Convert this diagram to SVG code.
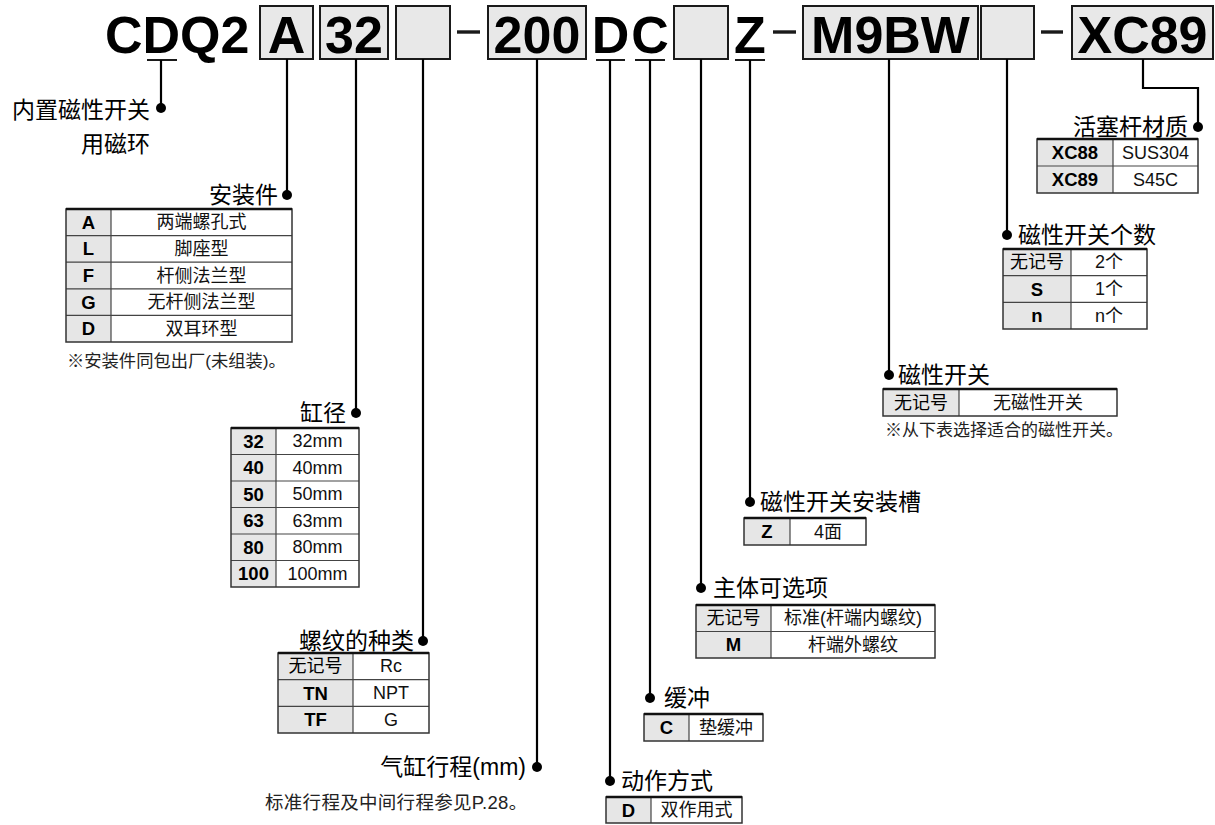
<svg xmlns="http://www.w3.org/2000/svg" width="1215" height="825" viewBox="0 0 1215 825">
<style>
.hd{font-family:"Liberation Sans",Arial,sans-serif;font-weight:bold;font-size:52px;fill:#000;text-anchor:middle}
.box{fill:#e8e8e8;stroke:#1a1a1a;stroke-width:2}
.ul{stroke:#1a1a1a;stroke-width:2}
.dash{fill:#1a1a1a}
.ln{fill:none;stroke:#000;stroke-width:2.2}
.dot{fill:#000}
.lbl{font-family:"Liberation Sans","Noto Sans CJK SC",sans-serif;font-size:23px;fill:#000;dominant-baseline:central}
.note{font-family:"Liberation Sans","Noto Sans CJK SC",sans-serif;font-size:17px;fill:#222;dominant-baseline:central}
.tb{fill:none;stroke:#333;stroke-width:1.5}
.bg{fill:#fff}
.c1{fill:#e6e6e6}
.grid{stroke:#444;stroke-width:1.2}
.top{stroke:#111;stroke-width:2.4}
.k{font-family:"Liberation Sans","Noto Sans CJK SC",sans-serif;font-weight:bold;font-size:18.5px;fill:#000;text-anchor:middle;dominant-baseline:central}
.kc{font-family:"Liberation Sans","Noto Sans CJK SC",sans-serif;font-size:18px;fill:#000;text-anchor:middle;dominant-baseline:central}
.v{font-family:"Liberation Sans","Noto Sans CJK SC",sans-serif;font-size:18px;fill:#111;text-anchor:middle;dominant-baseline:central}
.e{text-anchor:end}
</style>

<!-- Header model code -->
<g id="header">
  <text class="hd" x="105" y="53" style="text-anchor:start">CDQ2</text>
  <rect class="box" x="260" y="6" width="53" height="53"/>
  <text class="hd" x="286.5" y="53">A</text>
  <rect class="box" x="320" y="6" width="68" height="53"/>
  <text class="hd" x="354" y="53">32</text>
  <rect class="box" x="396" y="6" width="54" height="53"/>
  <rect class="dash" x="457" y="30.3" width="23" height="3.4"/>
  <rect class="box" x="488" y="6" width="98" height="53"/>
  <text class="hd" x="537" y="53">200</text>
  <text class="hd" x="610.5" y="53">D</text>
  <text class="hd" x="650" y="53">C</text>
  <rect class="box" x="674" y="6" width="54" height="53"/>
  <text class="hd" x="750" y="53">Z</text>
  <rect class="dash" x="773" y="30.3" width="23" height="3.4"/>
  <rect class="box" x="803" y="6" width="175" height="53"/>
  <text class="hd" x="890.5" y="53">M9BW</text>
  <rect class="box" x="981" y="6" width="53" height="53"/>
  <rect class="dash" x="1041" y="30.3" width="22" height="3.4"/>
  <rect class="box" x="1072" y="6" width="141" height="53"/>
  <text class="hd" x="1142.5" y="53">XC89</text>
  <line class="ul" x1="147" y1="60" x2="177" y2="60"/>
  <line class="ul" x1="596" y1="60" x2="625" y2="60"/>
  <line class="ul" x1="635" y1="60" x2="665" y2="60"/>
  <line class="ul" x1="735" y1="60" x2="765" y2="60"/>
</g>

<!-- Connectors -->
<g id="connectors">
  <path class="ln" d="M161 60V108"/>
  <path class="ln" d="M287 59V195"/>
  <path class="ln" d="M356 59V413"/>
  <path class="ln" d="M423 59V641"/>
  <path class="ln" d="M537 59V767"/>
  <path class="ln" d="M610 60V781"/>
  <path class="ln" d="M650 60V698"/>
  <path class="ln" d="M701 59V588"/>
  <path class="ln" d="M750 60V502"/>
  <path class="ln" d="M889 59V375"/>
  <path class="ln" d="M1007 59V235"/>
  <path class="ln" d="M1143 59V88H1198V127"/>
  <circle class="dot" cx="161" cy="108" r="5"/>
  <circle class="dot" cx="287" cy="195" r="5"/>
  <circle class="dot" cx="356" cy="413" r="5"/>
  <circle class="dot" cx="423" cy="641" r="5"/>
  <circle class="dot" cx="537" cy="767" r="5"/>
  <circle class="dot" cx="610" cy="781" r="5"/>
  <circle class="dot" cx="650" cy="698" r="5"/>
  <circle class="dot" cx="701" cy="588" r="5"/>
  <circle class="dot" cx="750" cy="502" r="5"/>
  <circle class="dot" cx="889" cy="375" r="5"/>
  <circle class="dot" cx="1007" cy="235" r="5"/>
  <circle class="dot" cx="1198" cy="127" r="5"/>
</g>

<!-- Built-in magnet -->
<g id="node-magnet">
  <text class="lbl e" x="150" y="110">内置磁性开关</text>
  <text class="lbl e" x="150" y="144">用磁环</text>
</g>

<!-- Mounting -->
<g id="node-mounting">
  <text class="lbl e" x="278" y="195">安装件</text>
  <rect class="bg" x="66" y="209" width="226" height="133"/>
  <rect class="c1" x="66" y="209" width="45" height="133"/>
  <line class="grid" x1="111" y1="209" x2="111" y2="342"/>
  <line class="grid" x1="66" y1="235.6" x2="292" y2="235.6"/>
  <line class="grid" x1="66" y1="262.2" x2="292" y2="262.2"/>
  <line class="grid" x1="66" y1="288.8" x2="292" y2="288.8"/>
  <line class="grid" x1="66" y1="315.4" x2="292" y2="315.4"/>
  <rect class="tb" x="66" y="209" width="226" height="133"/>
  <line class="top" x1="66" y1="209" x2="292" y2="209"/>
  <text class="k" x="88.5" y="222.3">A</text><text class="v" x="201.5" y="222.3">两端螺孔式</text>
  <text class="k" x="88.5" y="248.9">L</text><text class="v" x="201.5" y="248.9">脚座型</text>
  <text class="k" x="88.5" y="275.5">F</text><text class="v" x="201.5" y="275.5">杆侧法兰型</text>
  <text class="k" x="88.5" y="302.1">G</text><text class="v" x="201.5" y="302.1">无杆侧法兰型</text>
  <text class="k" x="88.5" y="328.7">D</text><text class="v" x="201.5" y="328.7">双耳环型</text>
  <text class="note" x="67" y="361" style="font-size:17.3px">※安装件同包出厂(未组装)。</text>
</g>

<!-- Bore -->
<g id="node-bore">
  <text class="lbl e" x="346" y="413">缸径</text>
  <rect class="bg" x="231" y="428" width="128" height="159"/>
  <rect class="c1" x="231" y="428" width="45" height="159"/>
  <line class="grid" x1="276" y1="428" x2="276" y2="587"/>
  <line class="grid" x1="231" y1="454.5" x2="359" y2="454.5"/>
  <line class="grid" x1="231" y1="481" x2="359" y2="481"/>
  <line class="grid" x1="231" y1="507.5" x2="359" y2="507.5"/>
  <line class="grid" x1="231" y1="534" x2="359" y2="534"/>
  <line class="grid" x1="231" y1="560.5" x2="359" y2="560.5"/>
  <rect class="tb" x="231" y="428" width="128" height="159"/>
  <line class="top" x1="231" y1="428" x2="359" y2="428"/>
  <text class="k" x="253.5" y="441.3">32</text><text class="v" x="317.5" y="441.3">32mm</text>
  <text class="k" x="253.5" y="467.8">40</text><text class="v" x="317.5" y="467.8">40mm</text>
  <text class="k" x="253.5" y="494.3">50</text><text class="v" x="317.5" y="494.3">50mm</text>
  <text class="k" x="253.5" y="520.8">63</text><text class="v" x="317.5" y="520.8">63mm</text>
  <text class="k" x="253.5" y="547.3">80</text><text class="v" x="317.5" y="547.3">80mm</text>
  <text class="k" x="253.5" y="573.8">100</text><text class="v" x="317.5" y="573.8">100mm</text>
</g>

<!-- Port thread -->
<g id="node-thread">
  <text class="lbl e" x="414" y="641">螺纹的种类</text>
  <rect class="bg" x="278" y="653" width="151" height="80"/>
  <rect class="c1" x="278" y="653" width="75" height="80"/>
  <line class="grid" x1="353" y1="653" x2="353" y2="733"/>
  <line class="grid" x1="278" y1="679.7" x2="429" y2="679.7"/>
  <line class="grid" x1="278" y1="706.3" x2="429" y2="706.3"/>
  <rect class="tb" x="278" y="653" width="151" height="80"/>
  <line class="top" x1="278" y1="653" x2="429" y2="653"/>
  <text class="kc" x="315.5" y="666.3">无记号</text><text class="v" x="391" y="666.3">Rc</text>
  <text class="k" x="315.5" y="693">TN</text><text class="v" x="391" y="693">NPT</text>
  <text class="k" x="315.5" y="719.7">TF</text><text class="v" x="391" y="719.7">G</text>
</g>

<!-- Stroke -->
<g id="node-stroke">
  <text class="lbl e" x="526" y="767">气缸行程(mm)</text>
  <text class="note" x="265" y="802" style="font-size:18.5px;letter-spacing:0.3px">标准行程及中间行程参见P.28。</text>
</g>

<!-- Action -->
<g id="node-action">
  <text class="lbl" x="621" y="781">动作方式</text>
  <rect class="bg" x="606" y="797" width="136" height="26"/>
  <rect class="c1" x="606" y="797" width="45" height="26"/>
  <line class="grid" x1="651" y1="797" x2="651" y2="823"/>
  <rect class="tb" x="606" y="797" width="136" height="26"/>
  <line class="top" x1="606" y1="797" x2="742" y2="797"/>
  <text class="k" x="628.5" y="810">D</text><text class="v" x="696.5" y="810">双作用式</text>
</g>

<!-- Cushion -->
<g id="node-cushion">
  <text class="lbl" x="664" y="698">缓冲</text>
  <rect class="bg" x="644" y="714" width="119" height="27"/>
  <rect class="c1" x="644" y="714" width="45" height="27"/>
  <line class="grid" x1="689" y1="714" x2="689" y2="741"/>
  <rect class="tb" x="644" y="714" width="119" height="27"/>
  <line class="top" x1="644" y1="714" x2="763" y2="714"/>
  <text class="k" x="666.5" y="727.5">C</text><text class="v" x="726" y="727.5">垫缓冲</text>
</g>

<!-- Body option -->
<g id="node-body">
  <text class="lbl" x="713" y="588">主体可选项</text>
  <rect class="bg" x="696" y="605" width="239" height="53"/>
  <rect class="c1" x="696" y="605" width="75" height="53"/>
  <line class="grid" x1="771" y1="605" x2="771" y2="658"/>
  <line class="grid" x1="696" y1="631.5" x2="935" y2="631.5"/>
  <rect class="tb" x="696" y="605" width="239" height="53"/>
  <line class="top" x1="696" y1="605" x2="935" y2="605"/>
  <text class="kc" x="733.5" y="618.3">无记号</text><text class="v" x="853" y="618.3">标准(杆端内螺纹)</text>
  <text class="k" x="733.5" y="644.8">M</text><text class="v" x="853" y="644.8">杆端外螺纹</text>
</g>

<!-- Switch mounting groove -->
<g id="node-groove">
  <text class="lbl" x="760" y="502">磁性开关安装槽</text>
  <rect class="bg" x="744" y="518" width="122" height="27"/>
  <rect class="c1" x="744" y="518" width="46" height="27"/>
  <line class="grid" x1="790" y1="518" x2="790" y2="545"/>
  <rect class="tb" x="744" y="518" width="122" height="27"/>
  <line class="top" x1="744" y1="518" x2="866" y2="518"/>
  <text class="k" x="767" y="531.5">Z</text><text class="v" x="828" y="531.5">4面</text>
</g>

<!-- Auto switch -->
<g id="node-switch">
  <text class="lbl" x="898" y="375">磁性开关</text>
  <rect class="bg" x="883" y="389" width="234" height="27"/>
  <rect class="c1" x="883" y="389" width="76" height="27"/>
  <line class="grid" x1="959" y1="389" x2="959" y2="416"/>
  <rect class="tb" x="883" y="389" width="234" height="27"/>
  <line class="top" x1="883" y1="389" x2="1117" y2="389"/>
  <text class="kc" x="921" y="402.5">无记号</text><text class="v" x="1038" y="402.5">无磁性开关</text>
  <text class="note" x="885" y="430">※从下表选择适合的磁性开关。</text>
</g>

<!-- Number of switches -->
<g id="node-count">
  <text class="lbl" x="1018" y="235">磁性开关个数</text>
  <rect class="bg" x="1003" y="249" width="144" height="80"/>
  <rect class="c1" x="1003" y="249" width="68" height="80"/>
  <line class="grid" x1="1071" y1="249" x2="1071" y2="329"/>
  <line class="grid" x1="1003" y1="275.7" x2="1147" y2="275.7"/>
  <line class="grid" x1="1003" y1="302.3" x2="1147" y2="302.3"/>
  <rect class="tb" x="1003" y="249" width="144" height="80"/>
  <line class="top" x1="1003" y1="249" x2="1147" y2="249"/>
  <text class="kc" x="1037" y="262.3">无记号</text><text class="v" x="1109" y="262.3">2个</text>
  <text class="k" x="1037" y="289">S</text><text class="v" x="1109" y="289">1个</text>
  <text class="k" x="1037" y="315.7">n</text><text class="v" x="1109" y="315.7">n个</text>
</g>

<!-- Piston rod material -->
<g id="node-rod">
  <text class="lbl e" x="1188" y="127">活塞杆材质</text>
  <rect class="bg" x="1037" y="139" width="161" height="54"/>
  <rect class="c1" x="1037" y="139" width="76" height="54"/>
  <line class="grid" x1="1113" y1="139" x2="1113" y2="193"/>
  <line class="grid" x1="1037" y1="166" x2="1198" y2="166"/>
  <rect class="tb" x="1037" y="139" width="161" height="54"/>
  <line class="top" x1="1037" y1="139" x2="1198" y2="139"/>
  <text class="k" x="1075" y="152.5">XC88</text><text class="v" x="1155.5" y="152.5">SUS304</text>
  <text class="k" x="1075" y="179.5">XC89</text><text class="v" x="1155.5" y="179.5">S45C</text>
</g>
</svg>
